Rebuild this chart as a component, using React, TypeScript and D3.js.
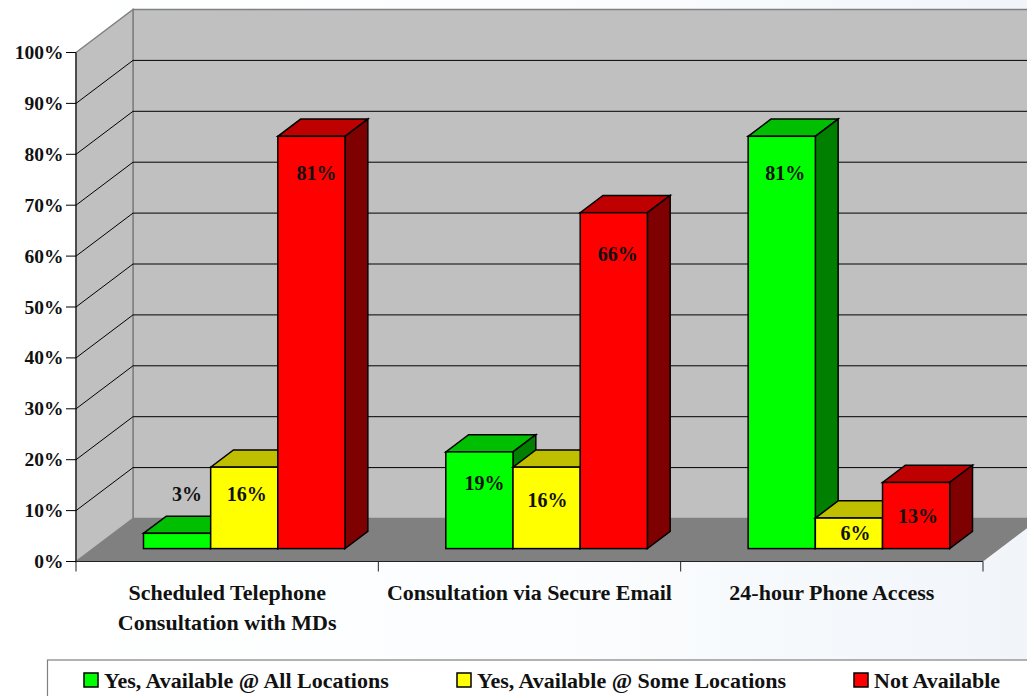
import React from "react";
import * as d3 from "d3";

const categories = [
  ["Scheduled Telephone", "Consultation with MDs"],
  ["Consultation via Secure Email"],
  ["24-hour Phone Access"],
];
const seriesNames = ["Yes, Available @ All Locations", "Yes, Available @ Some Locations", "Not Available"];
const allLocations = [3, 19, 81];
const someLocations = [16, 16, 6];
const notAvailable = [81, 66, 13];
const seriesValues = [allLocations, someLocations, notAvailable];
const yTicks = [0, 10, 20, 30, 40, 50, 60, 70, 80, 90, 100];

// Face colours per series: front, top, side
const faceColors = [
  ["#00FF00", "#00BF00", "#007F00"],
  ["#FFFF00", "#BFBF00", "#7F7F00"],
  ["#FF0000", "#BF0000", "#7F0000"],
];

// Hand-placed data label nudges (dx from bar centre, centre dy from bar top), per series then category
const labelNudge = [
  [[10, -39], [5, 32], [3.5, 37]],
  [[2.5, 27], [1, 33], [6.5, 15]],
  [[5, 37], [4, 41.5], [2, 34]],
];

const W = 1027;
const H = 696;
const DEPTH_X = 57;
const DEPTH_Y = 43;
const BAR_SHIFT = 0.3; // bars stand this far back from the front edge of the floor
const BAR_DEPTH = 0.4; // fraction of the floor depth a bar occupies

const FONT = "'Liberation Serif', serif";

const x = d3.scaleBand<number>().domain([0, 1, 2]).range([76, 983]).paddingInner(0).paddingOuter(0);
const y = d3.scaleLinear().domain([0, 100]).range([561.5, 52.5]);

const pts = (p: number[][]) => p.map((q) => q.join(",")).join(" ");

export default function App() {
  const x0 = x.range()[0];
  const x1 = x.range()[1];
  const y0 = y(0);
  const y100 = y(100);
  const barW = (x.bandwidth() * 2) / 9;
  const gap = (x.bandwidth() - barW * 3) / 2;
  const sx = DEPTH_X * BAR_SHIFT;
  const sy = DEPTH_Y * BAR_SHIFT;
  const dx = DEPTH_X * BAR_DEPTH;
  const dy = DEPTH_Y * BAR_DEPTH;

  const bars = categories.flatMap((_, c) =>
    seriesValues.map((vals, s) => {
      const left = (x(c) as number) + gap + s * barW + sx;
      const right = left + barW;
      const base = y0 - sy;
      const top = base - (y0 - y(vals[c]));
      return { c, s, v: vals[c], left, right, base, top };
    })
  );

  return (
    <svg
      width={W}
      height={H}
      viewBox={`0 0 ${W} ${H}`}
      style={{ position: "absolute", left: 0, top: 0, display: "block", fontFamily: FONT }}
    >
      <defs>
        <linearGradient id="pageWash" x1="0" y1="0" x2="1" y2="0">
          <stop offset="0" stopColor="#FFFFFF" />
          <stop offset="0.55" stopColor="#FBFDFE" />
          <stop offset="1" stopColor="#F1F5FA" />
        </linearGradient>
      </defs>
      <rect width={W} height={H} fill="url(#pageWash)" />

      {/* back wall */}
      <rect
        x={x0 + DEPTH_X}
        y={y100 - DEPTH_Y}
        width={W}
        height={y0 - y100}
        fill="#C0C0C0"
        stroke="#808080"
        strokeWidth={1.5}
      />
      {/* side wall */}
      <polygon
        points={pts([[x0, y0], [x0, y100], [x0 + DEPTH_X, y100 - DEPTH_Y], [x0 + DEPTH_X, y0 - DEPTH_Y]])}
        fill="#C0C0C0"
        stroke="#808080"
        strokeWidth={1.5}
      />
      {/* floor */}
      <polygon
        points={pts([[x0, y0], [x1, y0], [x1 + DEPTH_X, y0 - DEPTH_Y], [x0 + DEPTH_X, y0 - DEPTH_Y]])}
        fill="#808080"
      />

      {/* gridlines on side and back walls */}
      {yTicks.slice(1, -1).map((t) => (
        <polyline
          key={t}
          points={pts([[x0, y(t)], [x0 + DEPTH_X, y(t) - DEPTH_Y], [W, y(t) - DEPTH_Y]])}
          fill="none"
          stroke="#000"
          strokeWidth={1}
        />
      ))}

      {/* axes */}
      <line x1={x0} x2={x0} y1={y100} y2={y0} stroke="#000" strokeWidth={1} />
      <line x1={x0} x2={x1} y1={y0} y2={y0} stroke="#222" strokeWidth={1.2} />
      {yTicks.map((t) => (
        <g key={t}>
          <line x1={x0 - 10} x2={x0} y1={y(t)} y2={y(t)} stroke="#000" />
          <text x={63.5} y={y(t) + 6.5} textAnchor="end" fontSize={19.5} fontWeight={700} fill="#111">
            {t}%
          </text>
        </g>
      ))}
      {[0, 1, 2, 3].map((i) => {
        const tx = x0 + i * x.bandwidth();
        return <line key={i} x1={tx} x2={tx} y1={y0} y2={y0 + 10} stroke="#222" />;
      })}

      {/* extruded bars, drawn from left to right so later bars overlap earlier sides */}
      {bars.map((b) => (
        <g key={`${b.c}-${b.s}`} stroke="#000" strokeWidth={1.5} strokeLinejoin="miter">
          <polygon
            points={pts([[b.left, b.top], [b.right, b.top], [b.right + dx, b.top - dy], [b.left + dx, b.top - dy]])}
            fill={faceColors[b.s][1]}
          />
          <polygon
            points={pts([[b.right, b.top], [b.right + dx, b.top - dy], [b.right + dx, b.base - dy], [b.right, b.base]])}
            fill={faceColors[b.s][2]}
          />
          <rect x={b.left} y={b.top} width={barW} height={b.base - b.top} fill={faceColors[b.s][0]} />
        </g>
      ))}

      {/* value labels */}
      {bars.map((b) => {
        const [ox, oy] = labelNudge[b.s][b.c];
        return (
          <text
            key={`l-${b.c}-${b.s}`}
            x={(b.left + b.right) / 2 + ox}
            y={b.top + oy + 6.5}
            textAnchor="middle"
            fontSize={20}
            fontWeight={700}
            fill="#111"
          >
            {b.v}%
          </text>
        );
      })}

      {/* category labels */}
      {categories.map((lines, c) => (
        <text key={c} textAnchor="middle" fontSize={22} fontWeight={700} fill="#111">
          {lines.map((l, i) => (
            <tspan key={i} x={(x(c) as number) + x.bandwidth() / 2} y={600 + i * 30}>
              {l}
            </tspan>
          ))}
        </text>
      ))}

      {/* legend */}
      <rect x={47.5} y={660} width={W} height={60} fill="#FFFFFF" stroke="#808080" strokeWidth={1.2} />
      {seriesNames.map((name, s) => {
        const swatchX = [84, 457, 854][s];
        return (
          <g key={name}>
            <rect x={swatchX} y={673} width={14} height={14} fill={faceColors[s][0]} stroke="#000" strokeWidth={1.5} />
            <text x={swatchX + 20} y={688} fontSize={22} fontWeight={700} fill="#111">
              {name}
            </text>
          </g>
        );
      })}
    </svg>
  );
}
